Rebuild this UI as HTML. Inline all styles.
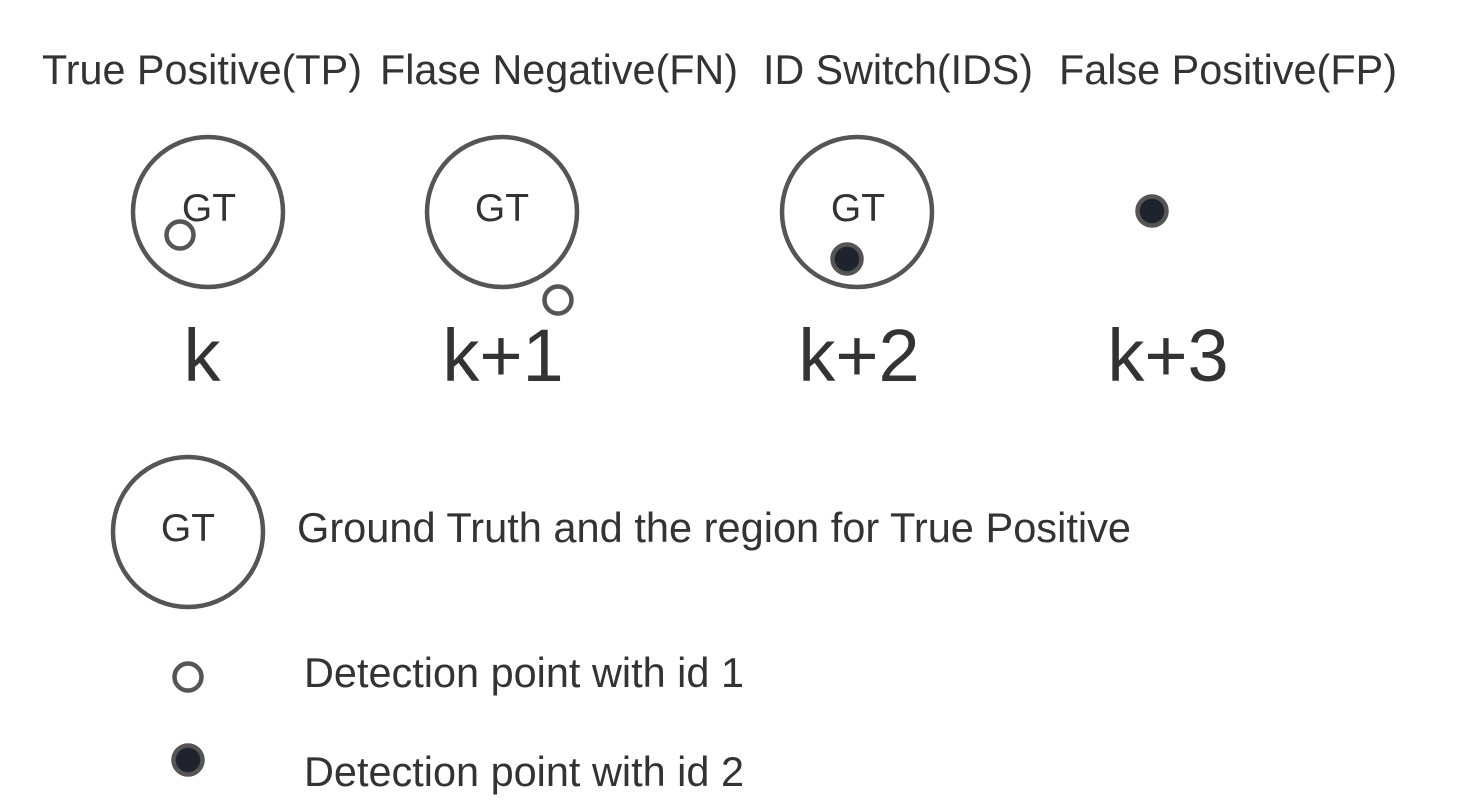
<!DOCTYPE html>
<html><head><meta charset="utf-8"><style>
html,body{margin:0;padding:0;background:#fff;width:1479px;height:812px;overflow:hidden}
text{font-family:"Liberation Sans",Arial,sans-serif;fill:#333}
</style></head><body>
<svg width="1479" height="812" viewBox="0 0 1479 812" xmlns="http://www.w3.org/2000/svg">
<g font-size="41.5">
<text x="42" y="84" textLength="320" lengthAdjust="spacingAndGlyphs">True Positive(TP)</text>
<text x="380" y="84" textLength="358" lengthAdjust="spacingAndGlyphs">Flase Negative(FN)</text>
<text x="763" y="84" textLength="270" lengthAdjust="spacingAndGlyphs">ID Switch(IDS)</text>
<text x="1059" y="84" textLength="338" lengthAdjust="spacingAndGlyphs">False Positive(FP)</text>
</g>
<g fill="none" stroke="#555" stroke-width="4.5">
<circle cx="208" cy="212" r="75"/>
<circle cx="502" cy="212" r="75"/>
<circle cx="857" cy="212" r="75"/>
<circle cx="188" cy="532" r="75"/>
</g>
<g font-size="39" text-anchor="middle">
<text x="209" y="221">GT</text>
<text x="502" y="221">GT</text>
<text x="858" y="221">GT</text>
<text x="188" y="541">GT</text>
</g>
<g fill="#fff" stroke="#555" stroke-width="4.5">
<circle cx="180" cy="235" r="13.5"/>
<circle cx="558" cy="300" r="13.5"/>
<circle cx="188" cy="677" r="13.5"/>
</g>
<g fill="#1e232d" stroke="#555" stroke-width="4.5">
<circle cx="847" cy="259" r="14.5"/>
<circle cx="1152" cy="211" r="14.5"/>
<circle cx="188" cy="760" r="14.5"/>
</g>
<g font-size="74" text-anchor="middle">
<text x="202" y="381">k</text>
<text x="503" y="381">k+1</text>
<text x="859" y="381">k+2</text>
<text x="1168" y="381">k+3</text>
</g>
<g font-size="41.5">
<text x="297" y="542" textLength="834" lengthAdjust="spacingAndGlyphs">Ground Truth and the region for True Positive</text>
<text x="304" y="687" textLength="440" lengthAdjust="spacingAndGlyphs">Detection point with id 1</text>
<text x="304" y="786" textLength="440" lengthAdjust="spacingAndGlyphs">Detection point with id 2</text>
</g>
</svg>
</body></html>
